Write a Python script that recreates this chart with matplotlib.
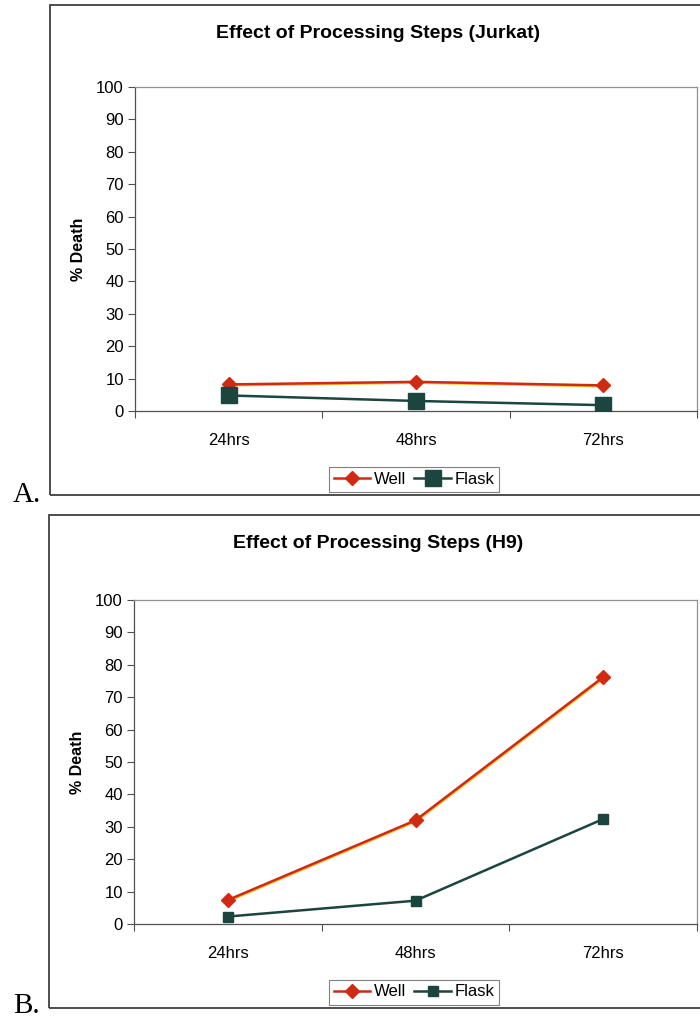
import matplotlib.pyplot as plt
import matplotlib.transforms as mtransforms
from matplotlib.patches import Rectangle
import numpy as np

plt.rcParams['font.family'] = ['Liberation Sans', 'DejaVu Sans']

times = ['24hrs', '48hrs', '72hrs']

jurkat_well = [8.2, 9.0, 7.9]
jurkat_flask = [4.8, 3.1, 1.8]

h9_well = [7.4, 32.0, 76.2]
h9_flask = [2.3, 7.2, 32.4]

yticks = list(range(0, 101, 10))

RED = '#cf2a12'
TEAL = '#1c4540'
GOLD = '#f2c230'

W, H = 700, 1018
fig = plt.figure(figsize=(W / 100, H / 100), dpi=100)


def fx(px):
    return px / W


def fy(px):
    return 1 - px / H


def panel(box, plot, title, well, flask, letter, letter_y, sq_size):
    # outer chart frame
    x0, y0, x1, y1 = box
    fig.patches.append(Rectangle((fx(x0), fy(y1)), fx(x1 - x0), (y1 - y0) / H,
                                 transform=fig.transFigure, fill=False,
                                 edgecolor='#404040', linewidth=1.3))
    px0, py0, px1, py1 = plot
    ax = fig.add_axes([fx(px0), fy(py1), fx(px1 - px0), (py1 - py0) / H])

    x = np.arange(len(times)) + 0.5
    shadow = mtransforms.offset_copy(ax.transData, fig=fig, x=0.6, y=-0.6, units='points')
    ax.plot(x, well, color=GOLD, linewidth=1.8, transform=shadow, zorder=2)
    ax.plot(x, well, color=RED, linewidth=1.8, marker='D', markersize=7,
            markeredgecolor=RED, label='Well', zorder=3)
    ax.plot(x, flask, color=TEAL, linewidth=1.8, marker='s', markersize=sq_size,
            markeredgecolor=TEAL, label='Flask', zorder=4)

    ax.set_xlim(0, 3)
    ax.set_ylim(0, 100)
    ax.set_yticks(yticks)
    ax.tick_params(axis='y', labelsize=12, length=5, width=0.8, color='#505050', pad=3)
    ax.set_xticks([0, 1, 2, 3])
    ax.set_xticklabels([])
    ax.set_xticks(x, minor=True)
    ax.set_xticklabels(times, minor=True)
    ax.tick_params(axis='x', which='major', length=5, width=0.8, color='#505050')
    ax.tick_params(axis='x', which='minor', length=0, labelsize=12, pad=16)
    for s in ['top', 'right']:
        ax.spines[s].set_color('#909090')
        ax.spines[s].set_linewidth(0.9)
    for s in ['left', 'bottom']:
        ax.spines[s].set_color('#505050')
        ax.spines[s].set_linewidth(0.9)

    ax.set_ylabel('% Death', fontsize=11.5, fontweight='bold', labelpad=7)
    fig.text(fx(378), fy(y0 + 29), title, ha='center', va='center',
             fontsize=14, fontweight='bold')

    leg = ax.legend(loc='center', bbox_to_anchor=(fx(414), fy(y1 - 16)),
                    bbox_transform=fig.transFigure, ncol=2, fontsize=12,
                    frameon=True, fancybox=False, handlelength=2.2,
                    handletextpad=0.2, columnspacing=0.5, borderpad=0.3,
                    borderaxespad=0)
    leg.get_frame().set_edgecolor('#606060')
    leg.get_frame().set_linewidth(0.8)

    fig.text(fx(13), fy(letter_y), letter, ha='left', va='baseline',
             fontsize=21, family='Liberation Serif')
    return ax


panel((50, 5, 712, 495), (135, 87, 697, 411),
      'Effect of Processing Steps (Jurkat)', jurkat_well, jurkat_flask, 'A.', 502, 11)
panel((49, 515, 712, 1008), (134, 600, 697, 924),
      'Effect of Processing Steps (H9)', h9_well, h9_flask, 'B.', 1013, 7.5)

fig.savefig('out.png', dpi=100)
